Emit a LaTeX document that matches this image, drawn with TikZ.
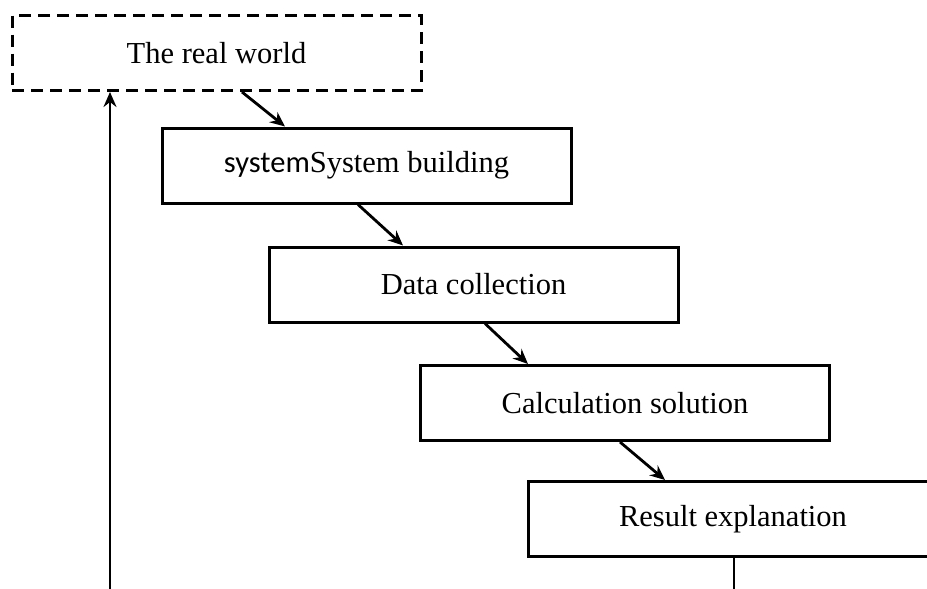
\documentclass[tikz,border=0pt]{standalone}
\usepackage{fontspec}
\setmainfont{Liberation Serif}
\newfontfamily\calfont{Carlito}
\usepackage{tikz}
\usetikzlibrary{
  arrows.meta,
  positioning
}
\tikzset{
  stagebox/.style={draw, line width=3pt,
    minimum width=409pt, minimum height=75pt,
    align=center, font=\fontsize{30.5}{36}\selectfont},
  worldbox/.style={stagebox, dash pattern=on 12pt off 7pt},
  arr/.style={-{Stealth[length=15pt, width=13pt, inset=5pt]}, line width=2.8pt},
  thinline/.style={line width=1.6pt},
}

\begin{document}
\begin{tikzpicture}[x=1pt, y=-1pt]
  \useasboundingbox (0,0) rectangle (927,589);
  \clip (0,0) rectangle (927,589);

  % Stages, stepping down to the right
  \node[worldbox] (world) at (216.5,53) {The real world};
  \node[stagebox] (build) at (366.5,165.5) {{\calfont system}System building};
  \node[stagebox] (data) at (473.5,284.5) {Data collection};
  \node[stagebox] (calc) at (625,403) {Calculation solution};
  \node[stagebox] (result) at (733,519) {Result explanation};

  % Loose ends at the bottom edge
  \coordinate (back) at (110,589);
  \coordinate (down) at (734,589);

  % Diagonal steps
  \draw[arr] ([xshift=25.5pt]world.south) -- ([xshift=-81.5pt]build.north);
  \draw[arr] ([xshift=-8.5pt]build.south) -- ([xshift=-70.5pt]data.north);
  \draw[arr] ([xshift=11.5pt]data.south) -- ([xshift=-97pt]calc.north);
  \draw[arr] ([xshift=-5pt]calc.south) -- ([xshift=-68pt]result.north);

  % Feedback to the real world
  \draw[thinline] ([xshift=1pt]result.south) -- (down);
  \draw[arr] (back) -- (back |- world.south);
\end{tikzpicture}
\end{document}
